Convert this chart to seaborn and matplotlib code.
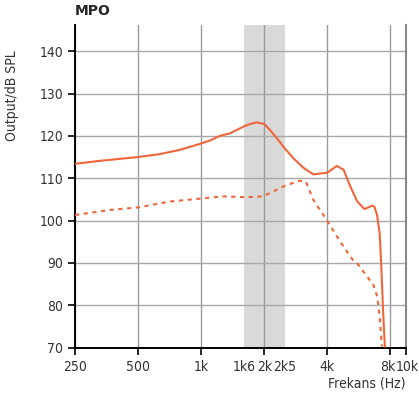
import numpy as np
import pandas as pd
import matplotlib
matplotlib.use("Agg")
import matplotlib.pyplot as plt
import matplotlib.transforms as mtransforms
import seaborn as sns

# MPO curve (solid): frequency in Hz, output in dB SPL
mpo_freq = [250, 329, 500, 636, 792, 1000, 1101, 1230, 1371, 1594, 1709, 1840,
            1876, 2000, 2130, 2294, 2500, 2757, 3089, 3431, 4000, 4440, 4783,
            5156, 5557, 6017, 6540, 6710, 6910, 7110, 7240, 7380, 7530]
mpo_db = [113.4, 114.1, 115.0, 115.7, 116.7, 118.2, 118.9, 120.0, 120.6, 122.2,
          122.8, 123.2, 123.1, 122.8, 121.4, 119.5, 117.1, 114.7, 112.4, 110.9,
          111.3, 112.9, 112.0, 108.0, 104.5, 102.7, 103.5, 103.3, 101.3, 97.0,
          89.1, 78.9, 70.2]

# second curve (dashed)
dash_freq = [250, 367, 500, 711, 1000, 1281, 1647, 1975, 2455, 2936, 3160,
             3431, 4000, 4580, 5290, 5557, 6630, 6930, 7130, 7290]
dash_db = [101.3, 102.5, 103.1, 104.5, 105.2, 105.7, 105.5, 105.7, 108.0, 109.4,
           109.2, 104.9, 99.9, 95.2, 90.7, 89.9, 84.8, 82.0, 76.5, 70.2]

major_ticks = [250, 500, 1000, 2000, 4000, 8000, 9455]
major_labels = ["250", "500", "1k", "2k", "4k", "8k", "10k"]
minor_ticks = [1600, 2500]
minor_labels = ["1k6", "2k5"]
band = (1600, 2500)

orange = "#F0663A"

sns.set_theme(style="white")
plt.rcParams["font.family"] = ["DejaVu Sans"]
plt.rcParams["font.stretch"] = "condensed"

fig = plt.figure(figsize=(4.19, 4.01), dpi=100)
ax = fig.add_axes([0.179, 0.1334, 0.789, 0.8043])

ax.axvspan(band[0], band[1], color="#d9d9d9", lw=0, zorder=0)

df_mpo = pd.DataFrame({"freq": mpo_freq, "db": mpo_db})
df_dash = pd.DataFrame({"freq": dash_freq, "db": dash_db})
sns.lineplot(data=df_mpo, x="freq", y="db", ax=ax, color=orange, lw=1.5,
             estimator=None, sort=False, zorder=3)
sns.lineplot(data=df_dash, x="freq", y="db", ax=ax, color=orange, lw=1.5,
             estimator=None, sort=False, linestyle=(0, (2, 2.2)), zorder=3)

ax.set_xscale("log", base=2)
ax.set_xlim(250, 9455)
ax.set_ylim(70, 146.2)

ax.set_xticks(major_ticks)
ax.set_xticklabels(major_labels)
ax.set_xticks(minor_ticks, minor=True)
ax.set_xticklabels(minor_labels, minor=True)
ax.set_yticks(np.arange(70, 141, 10))

ax.tick_params(axis="x", which="major", direction="out", length=5, width=1.2,
               color="black", labelsize=10, labelcolor="#333333", pad=4)
ax.tick_params(axis="x", which="minor", length=0, labelsize=10,
               labelcolor="#333333", pad=9)
ax.tick_params(axis="y", direction="out", length=5, width=1.2, color="black",
               labelsize=10, labelcolor="#333333", left=True)
ax.tick_params(axis="x", bottom=True)

# nudge the crowded 8k / 10k labels apart a little
labels = ax.get_xticklabels()
for lab, dx in ((labels[-2], -3), (labels[-1], 1.5)):
    lab.set_transform(lab.get_transform() +
                      mtransforms.ScaledTranslation(dx / 100, 0, fig.dpi_scale_trans))

for f in major_ticks[:-1]:
    ax.axvline(f, color="#9a9a9a", lw=1.0, zorder=1)
for v in range(80, 141, 10):
    ax.axhline(v, color="#a8a8a8", lw=1.0, zorder=1)

for side in ["left", "bottom"]:
    ax.spines[side].set_color("black")
    ax.spines[side].set_linewidth(1.4)
ax.spines["right"].set_color("#888888")
ax.spines["right"].set_linewidth(1.5)
ax.spines["top"].set_visible(False)

ax.set_ylabel("Output/dB SPL", fontsize=10, color="#333333")
ax.yaxis.set_label_coords(-0.17, 0.78)
ax.set_xlabel("Frekans (Hz)", fontsize=10, color="#333333", loc="right",
              labelpad=2)

fig.text(0.179, 0.972, "MPO", fontsize=10, fontweight="bold",
         fontstretch="normal", va="center", ha="left")

fig.savefig("out.png", dpi=100)
